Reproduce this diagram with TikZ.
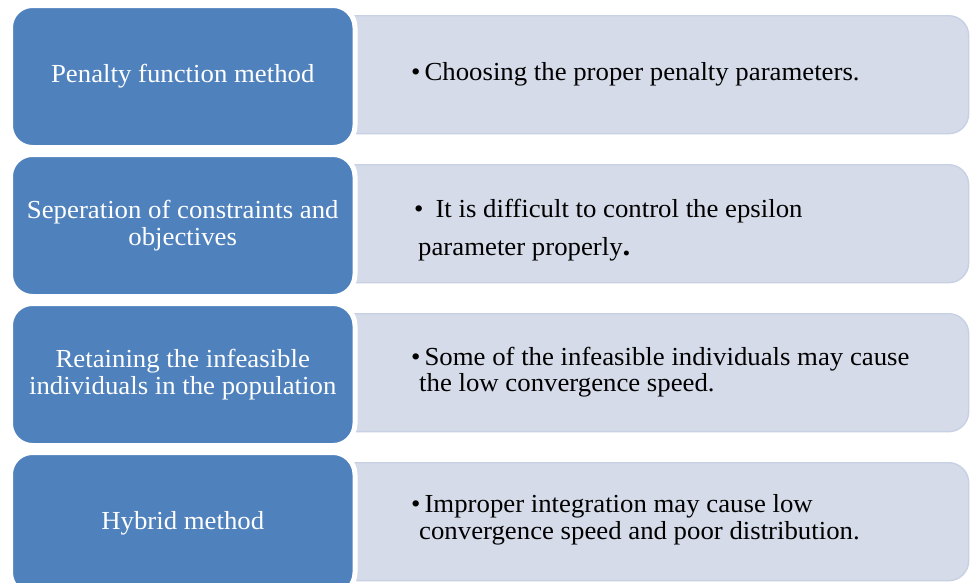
\documentclass[tikz,border=0pt]{standalone}
\usepackage{fontspec}
\setmainfont{Liberation Serif}[FakeStretch=1.03]
\definecolor{methodblue}{HTML}{4F81BD}
\definecolor{notefill}{HTML}{D5DBE8}
\definecolor{noteedge}{HTML}{C8D1E4}
\begin{document}
\begin{tikzpicture}[x=1pt,y=-1pt,
  methodbox/.style={draw=white, line width=5pt, fill=methodblue, rounded corners=22pt,
    minimum width=344.5pt, minimum height=142pt, anchor=north west, inner sep=0pt,
    text=white, align=center, font=\fontsize{26}{26.5}\selectfont},
  notebox/.style={draw=noteedge, line width=1.4pt, fill=notefill, rounded corners=20pt,
    minimum width=638pt, minimum height=118pt, anchor=north west, inner sep=0pt},
  notetext/.style={anchor=west, inner sep=0pt, align=left, text=black,
    font=\fontsize{26}{26.5}\selectfont}
]
\useasboundingbox (0,0) rectangle (970,582);
\clip (0,0) rectangle (970,582);
\fill[white] (0,0) rectangle (970,582);

% right note boxes (drawn first, behind the method boxes)
\node[notebox] (n1) at (330,15) {};
\node[notebox] (n2) at (330,164) {};
\node[notebox] (n3) at (330,313) {};
\node[notebox] (n4) at (330,462) {};

% left method boxes
\node[methodbox] (m1) at (8,3) {Penalty function method};
\node[methodbox] (m2) at (8,152) {Seperation of constraints and\\objectives};
\node[methodbox] (m3) at (8,301) {Retaining the infeasible\\individuals in the population};
\node[methodbox] (m4) at (8,450) {Hybrid method};

% note texts
\node[notetext] (t1) at (411,74) {•\hspace{4pt}Choosing the proper penalty parameters.};
\node[notetext] (t2) at (414,230) {•\hspace{12pt}It is difficult to control the epsilon\\[12pt]
  \hspace*{4pt}parameter properly{\fontsize{30}{30}\selectfont\bfseries .}};
\node[notetext] (t3) at (411,372) {•\hspace{4pt}Some of the infeasible individuals may cause\\
  \hspace*{8pt}the low convergence speed.};
\node[notetext] (t4) at (411,520) {•\hspace{4pt}Improper integration may cause low\\
  \hspace*{8pt}convergence speed and poor distribution.};
\end{tikzpicture}
\end{document}
